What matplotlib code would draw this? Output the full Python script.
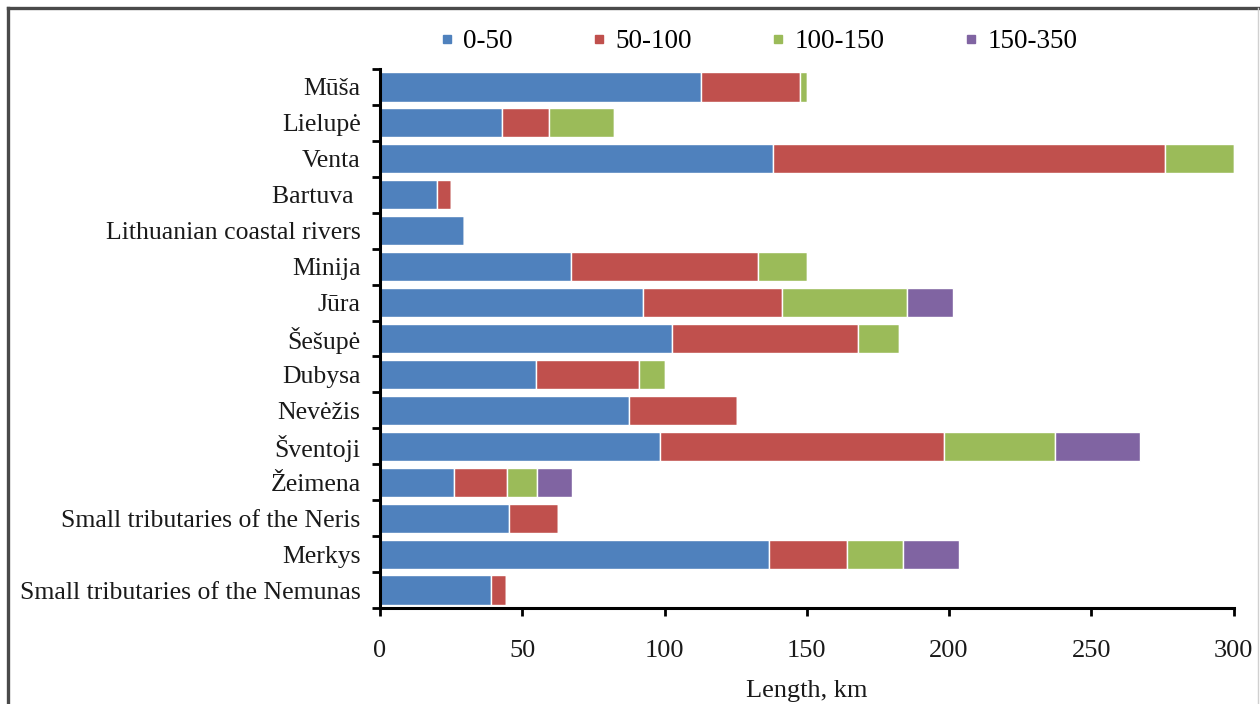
import matplotlib
matplotlib.use("Agg")
import matplotlib.pyplot as plt
from matplotlib.lines import Line2D
import numpy as np

plt.rcParams['font.family'] = ['Liberation Serif', 'DejaVu Serif']

rivers = [
    "Mūša", "Lielupė", "Venta", "Bartuva ", "Lithuanian coastal rivers",
    "Minija", "Jūra", "Šešupė", "Dubysa", "Nevėžis", "Šventoji", "Žeimena",
    "Small tributaries of the Neris", "Merkys", "Small tributaries of the Nemunas",
]
series_names = ["0-50", "50-100", "100-150", "150-350"]

# river length (km) by class of catchment-area-size, one list per class
len_0_50 = [113, 43, 138, 20, 29.5, 67, 92.3, 102.5, 54.7, 87.5, 98.4, 25.9, 45.5, 136.7, 38.9]
len_50_100 = [34.5, 16.5, 138, 5, 0, 66, 49.1, 65.4, 36.2, 38.1, 99.7, 18.6, 17, 27.4, 5.5]
len_100_150 = [2.5, 22.7, 24, 0, 0, 17, 43.9, 14.7, 9.2, 0, 39.3, 10.6, 0, 19.8, 0]
len_150_350 = [0, 0, 0, 0, 0, 0, 16.0, 0, 0, 0, 29.6, 12.5, 0, 19.5, 0]

colors = ["#4F81BD", "#C0504D", "#9BBB59", "#8064A2"]
x_ticks = [0, 50, 100, 150, 200, 250, 300]

fig = plt.figure(figsize=(12.6, 7.04), dpi=100)
ax = fig.add_axes([380 / 1260, 1 - 608 / 704, (1233.5 - 380) / 1260, (608 - 69) / 704])

y = np.arange(len(rivers))
left = np.zeros(len(rivers))
for vals, name, col in zip([len_0_50, len_50_100, len_100_150, len_150_350],
                           series_names, colors):
    vals = np.array(vals, dtype=float)
    ax.barh(y, vals, left=left, height=0.81, color=col, edgecolor="white",
            linewidth=1.0, label=name)
    left += vals

ax.set_xlim(0, 300)
ax.set_ylim(len(rivers) - 0.5, -0.5)
ax.set_xticks(x_ticks)
ax.set_yticks(y)
ax.set_yticklabels(rivers)
ax.set_yticks(np.arange(-0.5, len(rivers), 1.0), minor=True)

ax.tick_params(axis="y", which="major", length=0, pad=14, labelsize=18.5, labelcolor="#1a1a1a")
ax.tick_params(axis="y", which="minor", length=6, width=2, direction="out", color="black")
ax.tick_params(axis="x", which="major", length=6, width=2, direction="out",
               pad=17, labelsize=19, labelcolor="#1a1a1a")

for s in ["top", "right"]:
    ax.spines[s].set_visible(False)
for s in ["left", "bottom"]:
    ax.spines[s].set_linewidth(2.2)
    ax.spines[s].set_color("black")

ax.set_xlabel("Length, km", fontsize=19, color="#1a1a1a", labelpad=13)

handles = [Line2D([0], [0], marker="s", linestyle="none", markersize=6,
                  markerfacecolor=c, markeredgecolor=c) for c in colors]
fig.legend(handles, series_names, loc="center", ncol=4,
           bbox_to_anchor=(758 / 1260, 1 - 42 / 704), frameon=False,
           fontsize=19.5, handlelength=0.6, handletextpad=0.3, columnspacing=2.9)

# outer frame
fig.add_artist(Line2D([8 / 1260, 8 / 1260], [0, 1 - 8 / 704], transform=fig.transFigure,
                      color="#4a4a4a", linewidth=2.4))
fig.add_artist(Line2D([8 / 1260, 1], [1 - 8 / 704, 1 - 8 / 704], transform=fig.transFigure,
                      color="#4a4a4a", linewidth=2.4))
fig.add_artist(Line2D([1258 / 1260, 1258 / 1260], [0, 1 - 8 / 704], transform=fig.transFigure,
                      color="#d0d0d0", linewidth=1.0))

fig.savefig("out.png", dpi=100)
